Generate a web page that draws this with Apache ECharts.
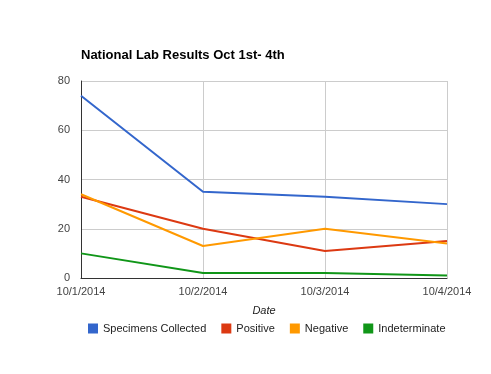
<!DOCTYPE html>
<html><head><meta charset="utf-8">
<script src="https://cdn.jsdelivr.net/npm/echarts@6/dist/echarts.min.js"></script>
<style>html,body{margin:0;padding:0;background:#fff}#c{width:491px;height:374px}</style>
</head><body><div id="c"></div>
<script>
const categories = ['10/1/2014', '10/2/2014', '10/3/2014', '10/4/2014'];
const specimens = [74, 35, 33, 30];
const positive = [33, 20, 11, 15];
const negative = [34, 13, 20, 14];
const indeterminate = [10, 2, 2, 1];
const seriesNames = ['Specimens Collected', 'Positive', 'Negative', 'Indeterminate'];
const colors = ['#3366cc', '#dc3912', '#ff9900', '#109618'];
const font = 'Arial, "Liberation Sans", sans-serif';

const chart = echarts.init(document.getElementById('c'), null, {renderer: 'canvas'});
const mk = (name, data, color) => ({
  name, type: 'line', data, symbol: 'none', smooth: false,
  lineStyle: {color, width: 2}, itemStyle: {color}, animation: false
});
chart.setOption({
  animation: false,
  color: colors,
  title: {
    text: 'National Lab Results Oct 1st- 4th',
    left: 76, top: 44,
    textStyle: {fontFamily: font, fontSize: 13, fontWeight: 'bold', color: '#000'}
  },
  grid: {left: 81, right: 44, top: 81, bottom: 96, containLabel: false},
  legend: {
    data: seriesNames,
    bottom: 35, left: 83,
    icon: 'rect', itemWidth: 10, itemHeight: 10, itemGap: 15,
    textStyle: {fontFamily: font, fontSize: 11, color: '#222'}
  },
  xAxis: {
    type: 'category', data: categories, boundaryGap: false,
    name: 'Date', nameLocation: 'middle', nameGap: 27,
    nameTextStyle: {fontFamily: font, fontSize: 11, fontStyle: 'italic', color: '#222'},
    axisLine: {lineStyle: {color: '#333', width: 1}},
    axisTick: {show: false},
    axisLabel: {fontFamily: font, fontSize: 11, color: '#444', margin: 8, showMaxLabel: true, showMinLabel: true},
    splitLine: {show: true, lineStyle: {color: '#ccc'}}
  },
  yAxis: {
    type: 'value', min: 0, max: 80, interval: 20,
    axisLine: {show: true, lineStyle: {color: '#333', width: 1}},
    axisTick: {show: false},
    axisLabel: {fontFamily: font, fontSize: 11, color: '#444', margin: 11},
    splitLine: {show: true, lineStyle: {color: '#ccc'}}
  },
  series: [
    mk(seriesNames[0], specimens, colors[0]),
    mk(seriesNames[1], positive, colors[1]),
    mk(seriesNames[2], negative, colors[2]),
    mk(seriesNames[3], indeterminate, colors[3])
  ]
});
</script></body></html>
